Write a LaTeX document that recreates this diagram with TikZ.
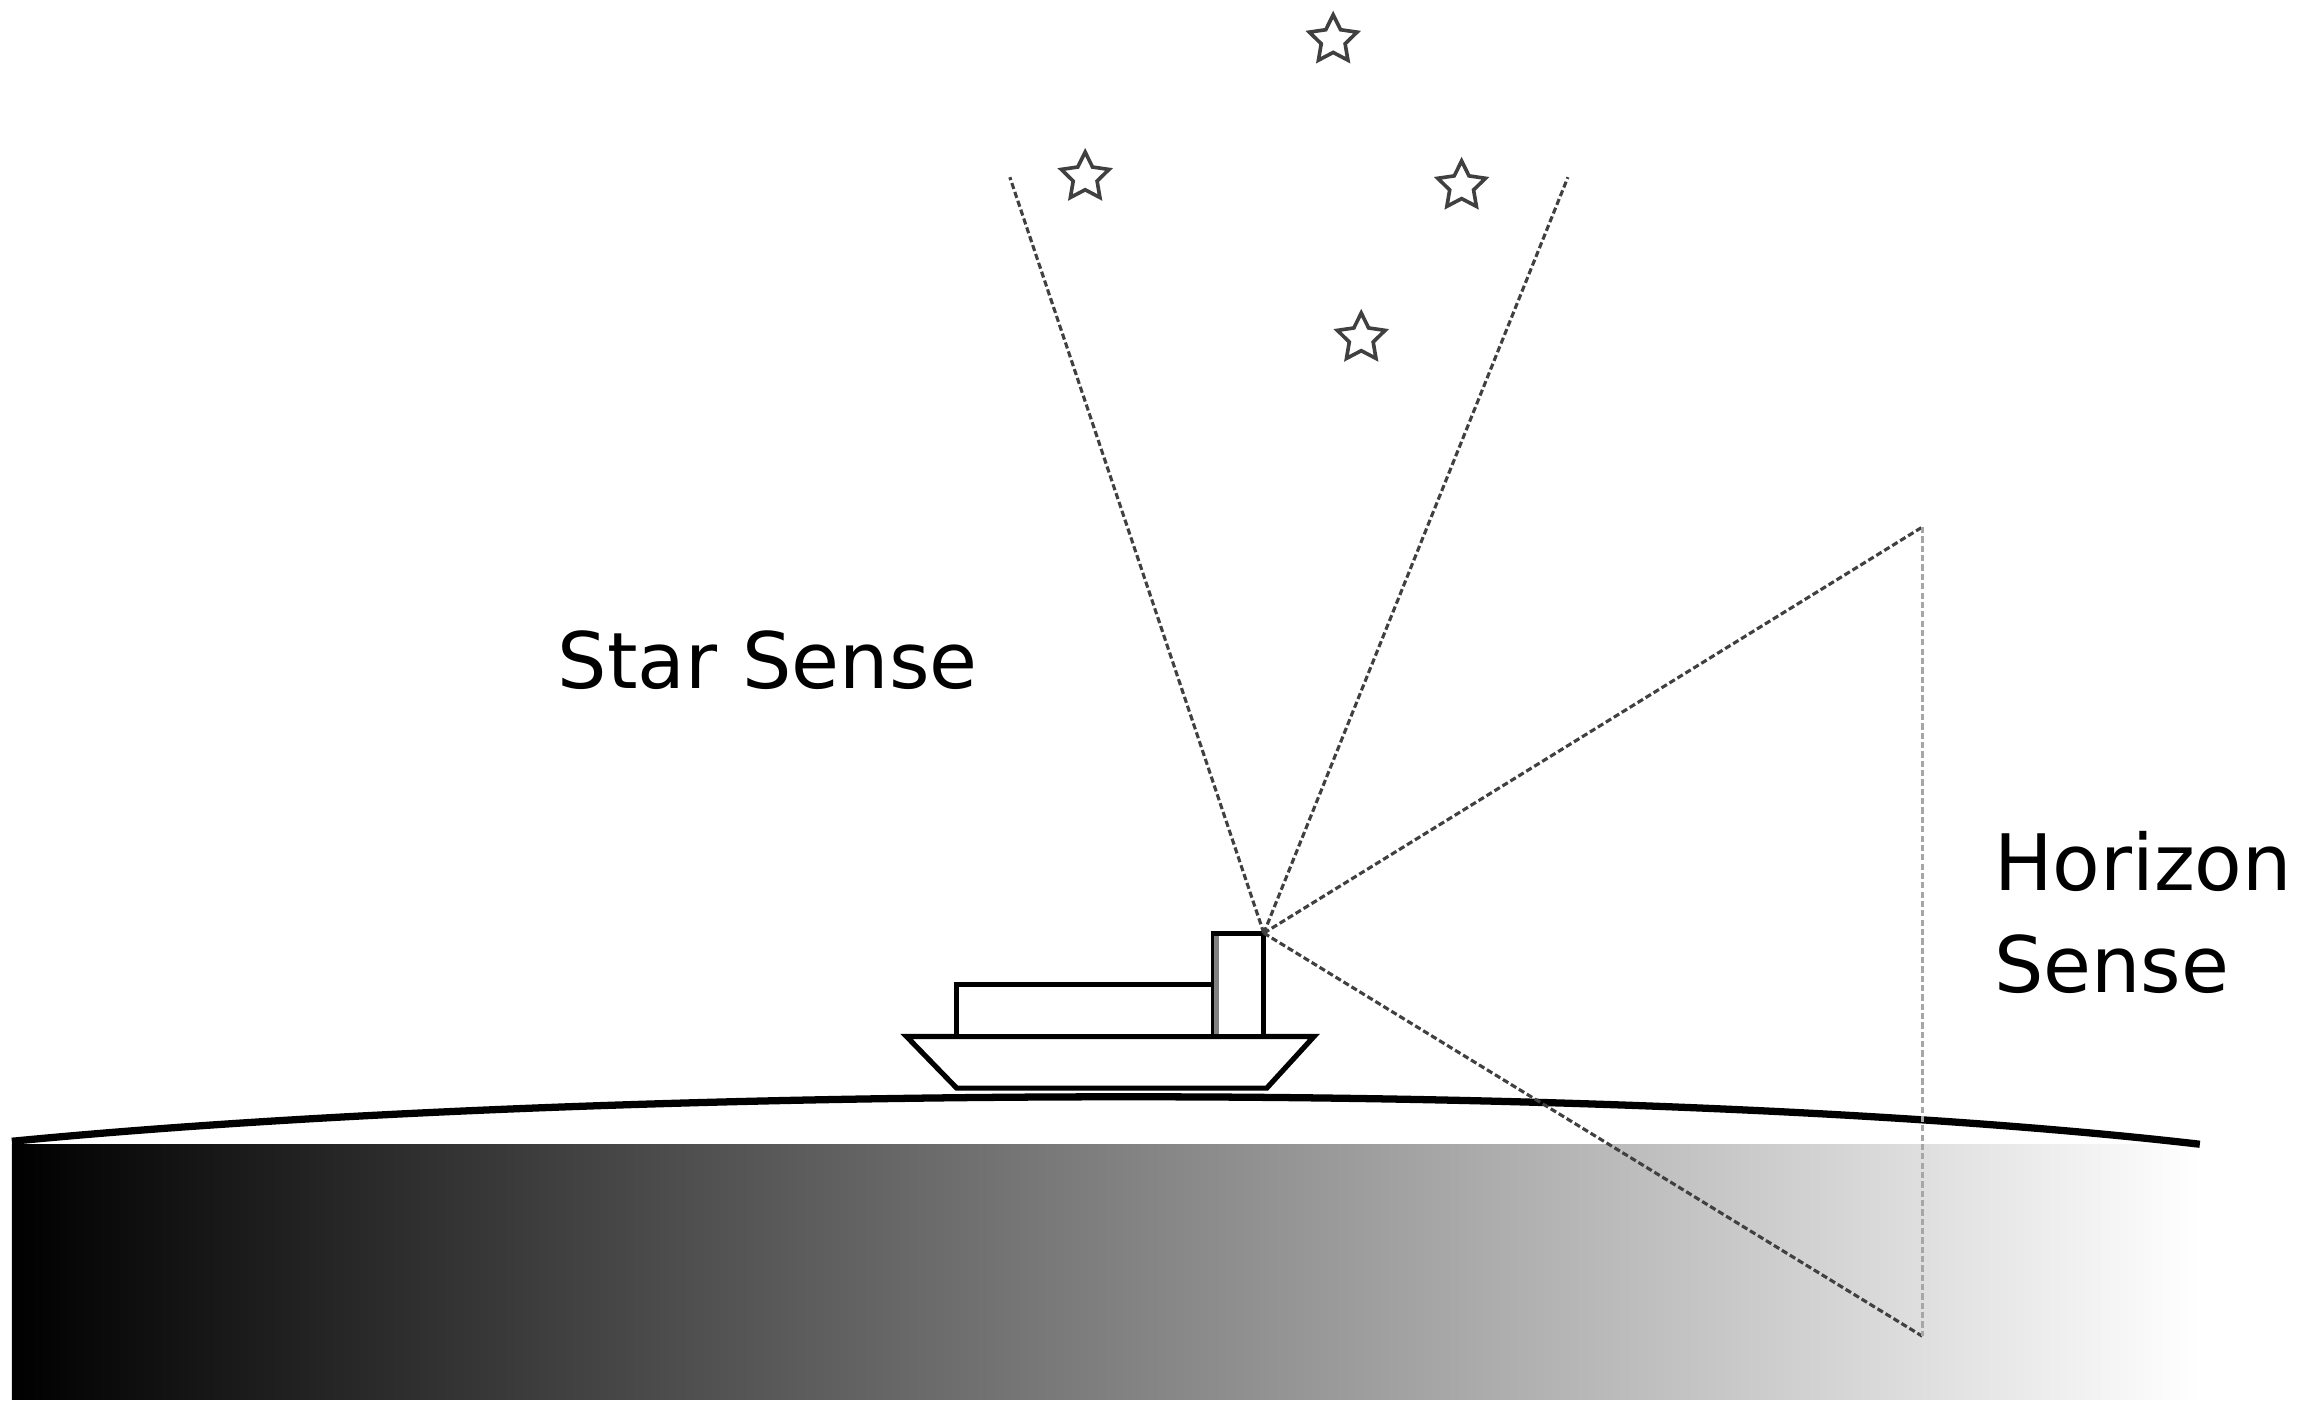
\documentclass[tikz,border=0pt]{standalone}
\usepackage{fontspec}
\setmainfont{DejaVu Sans}
\usetikzlibrary{shapes.geometric}
\begin{document}
\begin{tikzpicture}[x=0.01cm,y=-0.01cm,
  sight/.style={gray!50!black,dash pattern=on 1.2pt off 0.6pt,line width=0.6pt},
  starshape/.style={star,star points=5,star point ratio=2,draw=gray!50!black,line width=0.7pt,minimum size=0.34cm,inner sep=0pt},
  lbl/.style={font=\fontsize{15pt}{19.5pt}\selectfont,align=left}]
\useasboundingbox (0,0) rectangle (1568,956);
\shade[left color=black,right color=white] (8,775) rectangle (1490,948);
\draw[line width=1.4pt] (8,773) .. controls (400,735) and (1100,730) .. (1490,775);
% ship
\draw[line width=1pt,fill=white] (614,702) -- (890,702) -- (858,737) -- (648,737) -- cycle;
\draw[line width=1pt,fill=white] (648,667) rectangle (822,702);
\draw[line width=1pt,fill=white] (822,632) rectangle (856,702);
\draw[gray,line width=1pt] (824,634) -- (824,700);
\coordinate (s) at (856,632);
\coordinate (a) at (684,120);
\coordinate (b) at (1062,120);
\coordinate (c) at (1302,357);
\coordinate (d) at (1302,905);
\draw[sight] (s) -- (a);
\draw[sight] (s) -- (b);
\draw[sight] (s) -- (c);
\draw[sight] (s) -- (d);
\draw[sight,gray!70] (c) -- (d);
\node[starshape] (st1) at (903,27) {};
\node[starshape] (st2) at (735,120) {};
\node[starshape] (st3) at (990,126) {};
\node[starshape] (st4) at (922,229) {};
\node[lbl,anchor=center] (t1) at (520,447) {Star Sense};
\node[lbl,anchor=west,inner sep=0pt] (t2) at (1350,618) {Horizon\\Sense};
\end{tikzpicture}
\end{document}
